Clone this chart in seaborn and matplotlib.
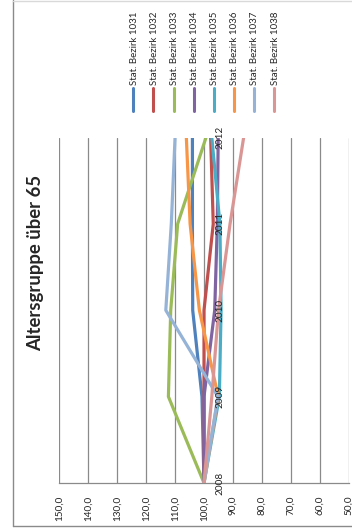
import matplotlib
matplotlib.use("Agg")
import matplotlib.pyplot as plt
from matplotlib.lines import Line2D
import numpy as np
import pandas as pd
import seaborn as sns

# index values (2008 = 100) per statistical district
years = [2008, 2009, 2010, 2011, 2012]
bezirke = ["Stat. Bezirk 1031", "Stat. Bezirk 1032", "Stat. Bezirk 1033",
           "Stat. Bezirk 1034", "Stat. Bezirk 1035", "Stat. Bezirk 1036",
           "Stat. Bezirk 1037", "Stat. Bezirk 1038"]
b1031 = [100.0, 100.7, 103.9, 104.0, 104.0]
b1032 = [100.0, 100.0, 100.0, 96.8, 97.7]
b1033 = [100.0, 112.3, 111.5, 109.1, 99.3]
b1034 = [100.0, 100.0, 96.3, 95.4, 95.1]
b1035 = [100.0, 94.7, 94.1, 94.5, 97.3]
b1036 = [100.0, 95.1, 101.6, 104.8, 106.1]
b1037 = [100.0, 95.2, 113.2, 111.3, 110.0]
b1038 = [100.0, 97.3, 95.0, 91.0, 86.3]
value_ticks = [150, 140, 130, 120, 110, 100, 90, 80, 70, 60, 50]

colors = ["#4F81BD", "#C0504D", "#9BBB59", "#8064A2",
          "#4BACC6", "#F79646", "#95B3D7", "#D99694"]

series = [b1031, b1032, b1033, b1034, b1035, b1036, b1037, b1038]
df = pd.concat([pd.DataFrame({"Jahr": years, "Wert": s, "Bezirk": name})
                for name, s in zip(bezirke, series)], ignore_index=True)

sns.set_style("white")
plt.rcParams["font.family"] = ["Lato", "DejaVu Sans"]

W, H = 352, 532
fig = plt.figure(figsize=(W / 100, H / 100), dpi=100)
ax = fig.add_axes([59.3 / W, 1 - 483 / H, (348.7 - 59.3) / W, (483 - 137.5) / H])

grid_col = "#8a8a8a"
for v in value_ticks:
    ax.axvline(v, color=grid_col, lw=0.9, zorder=0)

sns.lineplot(data=df, x="Wert", y="Jahr", hue="Bezirk", hue_order=bezirke,
             palette=colors, orient="y", estimator=None, sort=True,
             legend=False, linewidth=2.3, ax=ax, zorder=3)

ax.set_xlim(150, 50)
ax.set_ylim(2008, 2012)
ax.set_xticks(value_ticks)
ax.set_xticklabels([f"{v:.1f}".replace(".", ",") for v in value_ticks],
                   rotation=90, fontsize=7.2)
ax.set_yticks([])
ax.set_xlabel("")
ax.set_ylabel("")
ax.tick_params(axis="x", length=3, width=0.9, color=grid_col, pad=6)
for s in ["top", "left", "right"]:
    ax.spines[s].set_visible(False)
ax.spines["bottom"].set_color(grid_col)
ax.spines["bottom"].set_linewidth(0.9)

# category labels sit next to the axis crossing at 100
for y in years:
    ax.annotate(str(y), xy=(100, y), xytext=(8.3, 0), textcoords="offset points",
                rotation=90, ha="left", va="center", fontsize=7.2, zorder=5)

fig.text(36 / W, 1 - 263 / H, "Altersgruppe über 65", rotation=90,
         ha="center", va="center", fontsize=13.3, fontweight="bold")

# legend, rotated like the rest of the chart
for i, (name, c) in enumerate(zip(bezirke, colors)):
    x = (133.3 + i * 20.1) / W
    fig.add_artist(Line2D([x, x], [1 - 110.7 / H, 1 - 88.3 / H], color=c, lw=2.2))
    fig.text(x + 1 / W, 1 - 85 / H, name, rotation=90, ha="center", va="bottom",
             fontsize=7)

# chart area border
fig.add_artist(Line2D([13.3 / W, 13.3 / W], [1 - 526 / H, 1], color=grid_col, lw=1))
fig.add_artist(Line2D([13.3 / W, 1], [1 - 526 / H, 1 - 526 / H], color=grid_col, lw=1))
fig.add_artist(Line2D([13.3 / W, 1], [1 - 0.6 / H, 1 - 0.6 / H], color="#d9d9d9", lw=1))

fig.savefig("out.png", dpi=100)
